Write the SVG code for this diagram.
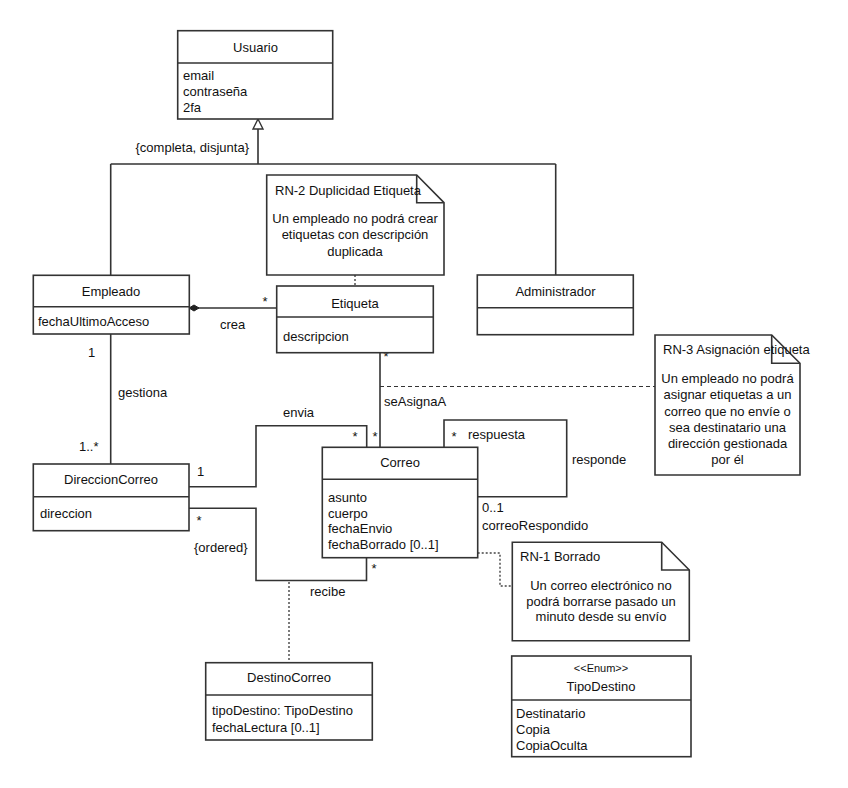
<svg xmlns="http://www.w3.org/2000/svg" width="848" height="788" viewBox="0 0 848 788">
<style>
text{font-family:"Liberation Sans",Arial,sans-serif;font-size:13px;fill:#111}
.c{text-anchor:middle}
.e{text-anchor:end}
.box{fill:#fff;stroke:#333;stroke-width:1.6}
.ln{fill:none;stroke:#333;stroke-width:1.6}
.dot{fill:none;stroke:#444;stroke-width:1.4;stroke-dasharray:2 2}
.dash{fill:none;stroke:#333;stroke-width:1.2;stroke-dasharray:4 3}
.small{font-size:11px}
</style>
<rect width="848" height="788" fill="#fff"/>
<g id="connectors">
  <path class="ln" d="M110.7,164 H555.7 M258,164 V129 M110.7,164 V275.3 M555.7,164 V275"/>
  <polygon points="258,119 253,129 263,129" fill="#fff" stroke="#333" stroke-width="1.4"/>
  <text class="e" x="249" y="152">{completa, disjunta}</text>
  <path class="dot" d="M355,275 V286"/>
  <path class="ln" d="M198,308 H276.7"/>
  <polygon points="189,308 194,305 199,308 194,311" fill="#222" stroke="#222" stroke-width="1"/>
  <text x="262.5" y="305.5">*</text>
  <text x="220" y="329">crea</text>
  <path class="ln" d="M110.7,334 V464"/>
  <text x="88" y="357">1</text>
  <text x="118" y="397">gestiona</text>
  <text x="79" y="451">1..*</text>
  <path class="ln" d="M380,352.7 V447.3"/>
  <text x="383.5" y="360.5">*</text>
  <text x="384" y="406">seAsignaA</text>
  <text x="372.5" y="440.5">*</text>
  <path class="dash" d="M380,386.5 H655"/>
  <path class="ln" d="M189,486.7 H256 V425.7 H366.7 V447.3"/>
  <text x="197" y="476">1</text>
  <text x="283" y="417">envia</text>
  <text x="352.5" y="440.5">*</text>
  <path class="ln" d="M189,508.3 H256 V580.5 H366.5 V557.7"/>
  <text x="196.5" y="524.5">*</text>
  <text x="194" y="552">{ordered}</text>
  <text x="371.5" y="572.5">*</text>
  <text x="310" y="596">recibe</text>
  <path class="dot" d="M289,582 V662.7"/>
  <path class="ln" d="M444,447.3 V420 H566.7 V496.7 H477.7"/>
  <text x="451.5" y="440.5">*</text>
  <text x="468" y="439">respuesta</text>
  <text x="572" y="464">responde</text>
  <text x="482" y="512">0..1</text>
  <text x="482" y="530">correoRespondido</text>
  <path class="dot" d="M477.7,553 H500 V586 H512.3"/>
</g>
<g id="Usuario">
  <rect class="box" x="177.7" y="30.7" width="155" height="88.3"/>
  <path class="ln" d="M177.7,63 H332.7"/>
  <text class="c" x="255.5" y="52">Usuario</text>
  <text x="183" y="80">email</text>
  <text x="183" y="96">contraseña</text>
  <text x="183" y="112">2fa</text>
</g>
<g id="RN2">
  <polygon class="box" points="266.7,175 416.7,175 444,202.7 444,275 266.7,275"/>
  <path class="ln" d="M416.7,175 V202.7 H444"/>
  <text x="275" y="195">RN-2 Duplicidad Etiqueta</text>
  <text class="c" x="355" y="223">Un empleado no podrá crear</text>
  <text class="c" x="355" y="239">etiquetas con descripción</text>
  <text class="c" x="355" y="255.5">duplicada</text>
</g>
<g id="Empleado">
  <rect class="box" x="33.3" y="275.3" width="156" height="58.7"/>
  <path class="ln" d="M33.3,306.7 H189.3"/>
  <text class="c" x="111" y="296">Empleado</text>
  <text x="38" y="326">fechaUltimoAcceso</text>
</g>
<g id="Etiqueta">
  <rect class="box" x="276.7" y="286" width="156.6" height="66.7"/>
  <path class="ln" d="M276.7,317 H433.3"/>
  <text class="c" x="355" y="307.7">Etiqueta</text>
  <text x="283" y="341">descripcion</text>
</g>
<g id="Administrador">
  <rect class="box" x="477.3" y="275" width="156" height="59.7"/>
  <path class="ln" d="M477.3,307.7 H633.3"/>
  <text class="c" x="555.5" y="295.7">Administrador</text>
</g>
<g id="RN3">
  <polygon class="box" points="655,335 771.7,335 800,363.3 800,475 655,475"/>
  <path class="ln" d="M771.7,335 V363.3 H800"/>
  <text x="663" y="354">RN-3 Asignación etiqueta</text>
  <text class="c" x="727.5" y="383">Un empleado no podrá</text>
  <text class="c" x="727.5" y="399">asignar etiquetas a un</text>
  <text class="c" x="727.5" y="415.5">correo que no envíe o</text>
  <text class="c" x="727.5" y="431.5">sea destinatario una</text>
  <text class="c" x="727.5" y="448">dirección gestionada</text>
  <text class="c" x="727.5" y="464">por él</text>
</g>
<g id="DireccionCorreo">
  <rect class="box" x="33.3" y="464" width="155.7" height="66.7"/>
  <path class="ln" d="M33.3,496.7 H189"/>
  <text class="c" x="111" y="484">DireccionCorreo</text>
  <text x="40" y="518">direccion</text>
</g>
<g id="Correo">
  <rect class="box" x="322.3" y="447.3" width="155.4" height="110.4"/>
  <path class="ln" d="M322.3,479.3 H477.7"/>
  <text class="c" x="400" y="467">Correo</text>
  <text x="328" y="502">asunto</text>
  <text x="328" y="517.5">cuerpo</text>
  <text x="328" y="533">fechaEnvio</text>
  <text x="328" y="548.5">fechaBorrado [0..1]</text>
</g>
<g id="RN1">
  <polygon class="box" points="512.3,542.3 661.7,542.3 689.3,570 689.3,640.7 512.3,640.7"/>
  <path class="ln" d="M661.7,542.3 V570 H689.3"/>
  <text x="520" y="561">RN-1 Borrado</text>
  <text class="c" x="601" y="590">Un correo electrónico no</text>
  <text class="c" x="601" y="605.5">podrá borrarse pasado un</text>
  <text class="c" x="601" y="621">minuto desde su envío</text>
</g>
<g id="DestinoCorreo">
  <rect class="box" x="205.7" y="662.7" width="166.6" height="77.3"/>
  <path class="ln" d="M205.7,695 H372.3"/>
  <text class="c" x="289" y="682">DestinoCorreo</text>
  <text x="212" y="715">tipoDestino: TipoDestino</text>
  <text x="212" y="731.5">fechaLectura [0..1]</text>
</g>
<g id="TipoDestino">
  <rect class="box" x="511.7" y="656" width="179.3" height="100.7"/>
  <path class="ln" d="M511.7,700 H691"/>
  <text class="c small" x="601" y="672">&lt;&lt;Enum&gt;&gt;</text>
  <text class="c" x="601" y="691">TipoDestino</text>
  <text x="516" y="717.5">Destinatario</text>
  <text x="516" y="734">Copia</text>
  <text x="516" y="750">CopiaOculta</text>
</g>
</svg>
